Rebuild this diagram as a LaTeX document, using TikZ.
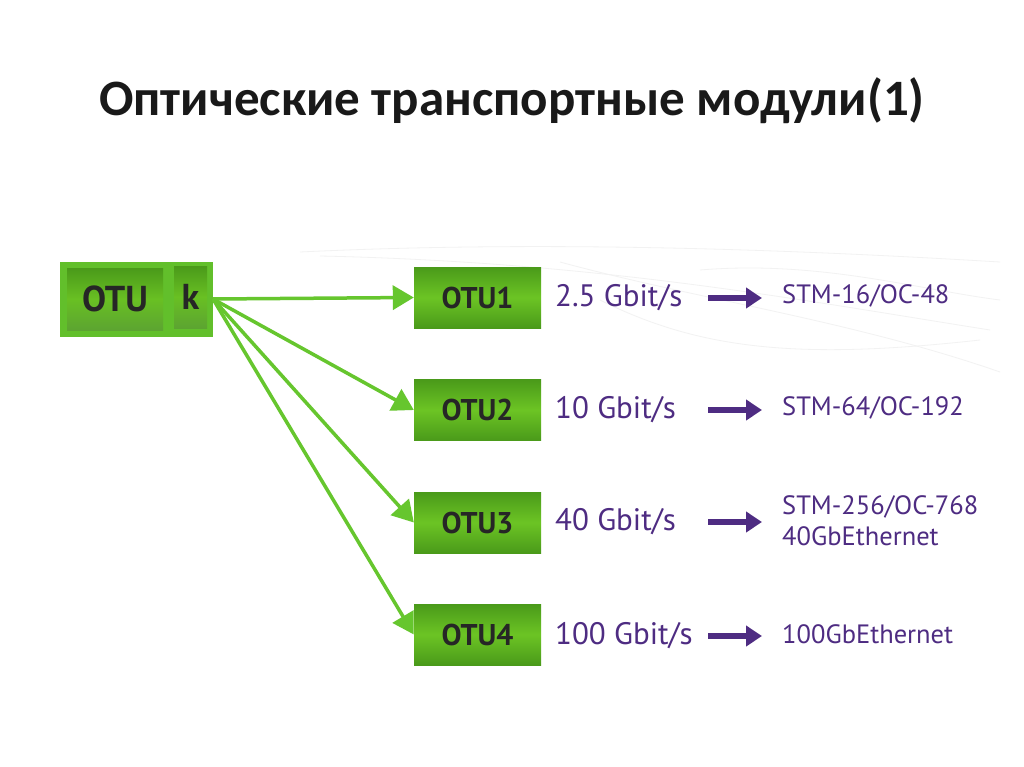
\documentclass[tikz,border=0pt]{standalone}
\usepackage{fontspec}
\setmainfont{PT Sans}
\newfontfamily\titlefont{Carlito}
\usetikzlibrary{arrows.meta}
\definecolor{gline}{HTML}{66C62E}
\definecolor{gdark}{HTML}{4A9A1A}
\definecolor{gmid}{HTML}{6CC424}
\definecolor{purp}{HTML}{4E2C82}
\tikzset{
  x=1pt,y=-1pt,
  otubox/.style={minimum width=127pt,minimum height=61pt,inner sep=0pt,
    top color=gdark,bottom color=gdark,middle color=gmid,
    font=\bfseries\fontsize{30}{32}\selectfont, text=black!85},
  inbox/.style={inner sep=0pt,top color=gdark,bottom color=gdark!90,middle color=gmid!90!gdark,
    font=\bfseries\fontsize{36}{38}\selectfont, text=black!85},
  garrow/.style={draw=gline,line width=3.5pt,-{Triangle[length=21pt,width=24pt]},shorten >=0pt},
  parrow/.style={draw=purp,line width=6.5pt,-{Triangle[length=16pt,width=20pt]}},
  rate/.style={anchor=west,inner sep=0pt,text=purp,font=\fontsize{31}{33}\selectfont},
  std/.style={anchor=west,inner sep=0pt,text=purp,font=\fontsize{26.5}{31}\selectfont,align=left},
  swirl/.style={draw=black!5,line width=0.8pt}
}
\begin{document}
\begin{tikzpicture}
\useasboundingbox[fill=white] (0,0) rectangle (1024,767);
% faint background swirl
\draw[swirl] (300,252) .. controls (550,240) and (800,250) .. (1000,262);
\draw[swirl] (320,256) .. controls (600,262) and (800,300) .. (990,330);
\draw[swirl] (560,262) .. controls (700,300) and (850,320) .. (1000,372);
\draw[swirl] (700,270) .. controls (820,260) and (920,290) .. (1000,300);
\draw[swirl] (600,300) .. controls (700,350) and (800,360) .. (980,340);
% title
\node[font=\titlefont\bfseries\fontsize{51}{54}\selectfont,text=black!90] (title) at (512,101) {Оптические транспортные модули(1)};
% OTU k
\node[minimum width=153pt,minimum height=75pt,inner sep=0pt,fill=gline!85!gdark] (otuk) at (136.5,299.5) {};
\node[inbox,minimum width=96pt,minimum height=62pt] (otulbl) at (115,299) {OTU};
\node[inbox,minimum width=33pt,minimum height=62pt] (klbl) at (190.5,297) {k};
\coordinate (src) at (213,299);
% OTU boxes
\node[otubox] (o1) at (477.5,297.5) {OTU1};
\node[otubox] (o2) at (477.5,410) {OTU2};
\node[otubox] (o3) at (477.5,522.5) {OTU3};
\node[otubox] (o4) at (477.5,634.5) {OTU4};
\foreach \n in {o1,o2,o3,o4}{\draw[garrow] (src) -- (\n.west);}
% rates
\node[rate] (r1) at (555,298) {2.5 Gbit/s};
\node[rate] (r2) at (555,410) {10 Gbit/s};
\node[rate] (r3) at (555,522) {40 Gbit/s};
\node[rate] (r4) at (555,636) {100 Gbit/s};
% standards
\node[std] (s1) at (782,296) {STM-16/OC-48};
\node[std] (s2) at (782,408) {STM-64/OC-192};
\node[std] (s3) at (782,521) {STM-256/OC-768\\40GbEthernet};
\node[std] (s4) at (782,634) {100GbEthernet};
% purple arrows
\coordinate (a1s) at (708,298); \coordinate (a1e) at (762,298);
\coordinate (a2s) at (708,410); \coordinate (a2e) at (762,410);
\coordinate (a3s) at (708,522); \coordinate (a3e) at (762,522);
\coordinate (a4s) at (708,636); \coordinate (a4e) at (762,636);
\draw[parrow] (a1s) -- (a1e);
\draw[parrow] (a2s) -- (a2e);
\draw[parrow] (a3s) -- (a3e);
\draw[parrow] (a4s) -- (a4e);
\end{tikzpicture}
\end{document}
